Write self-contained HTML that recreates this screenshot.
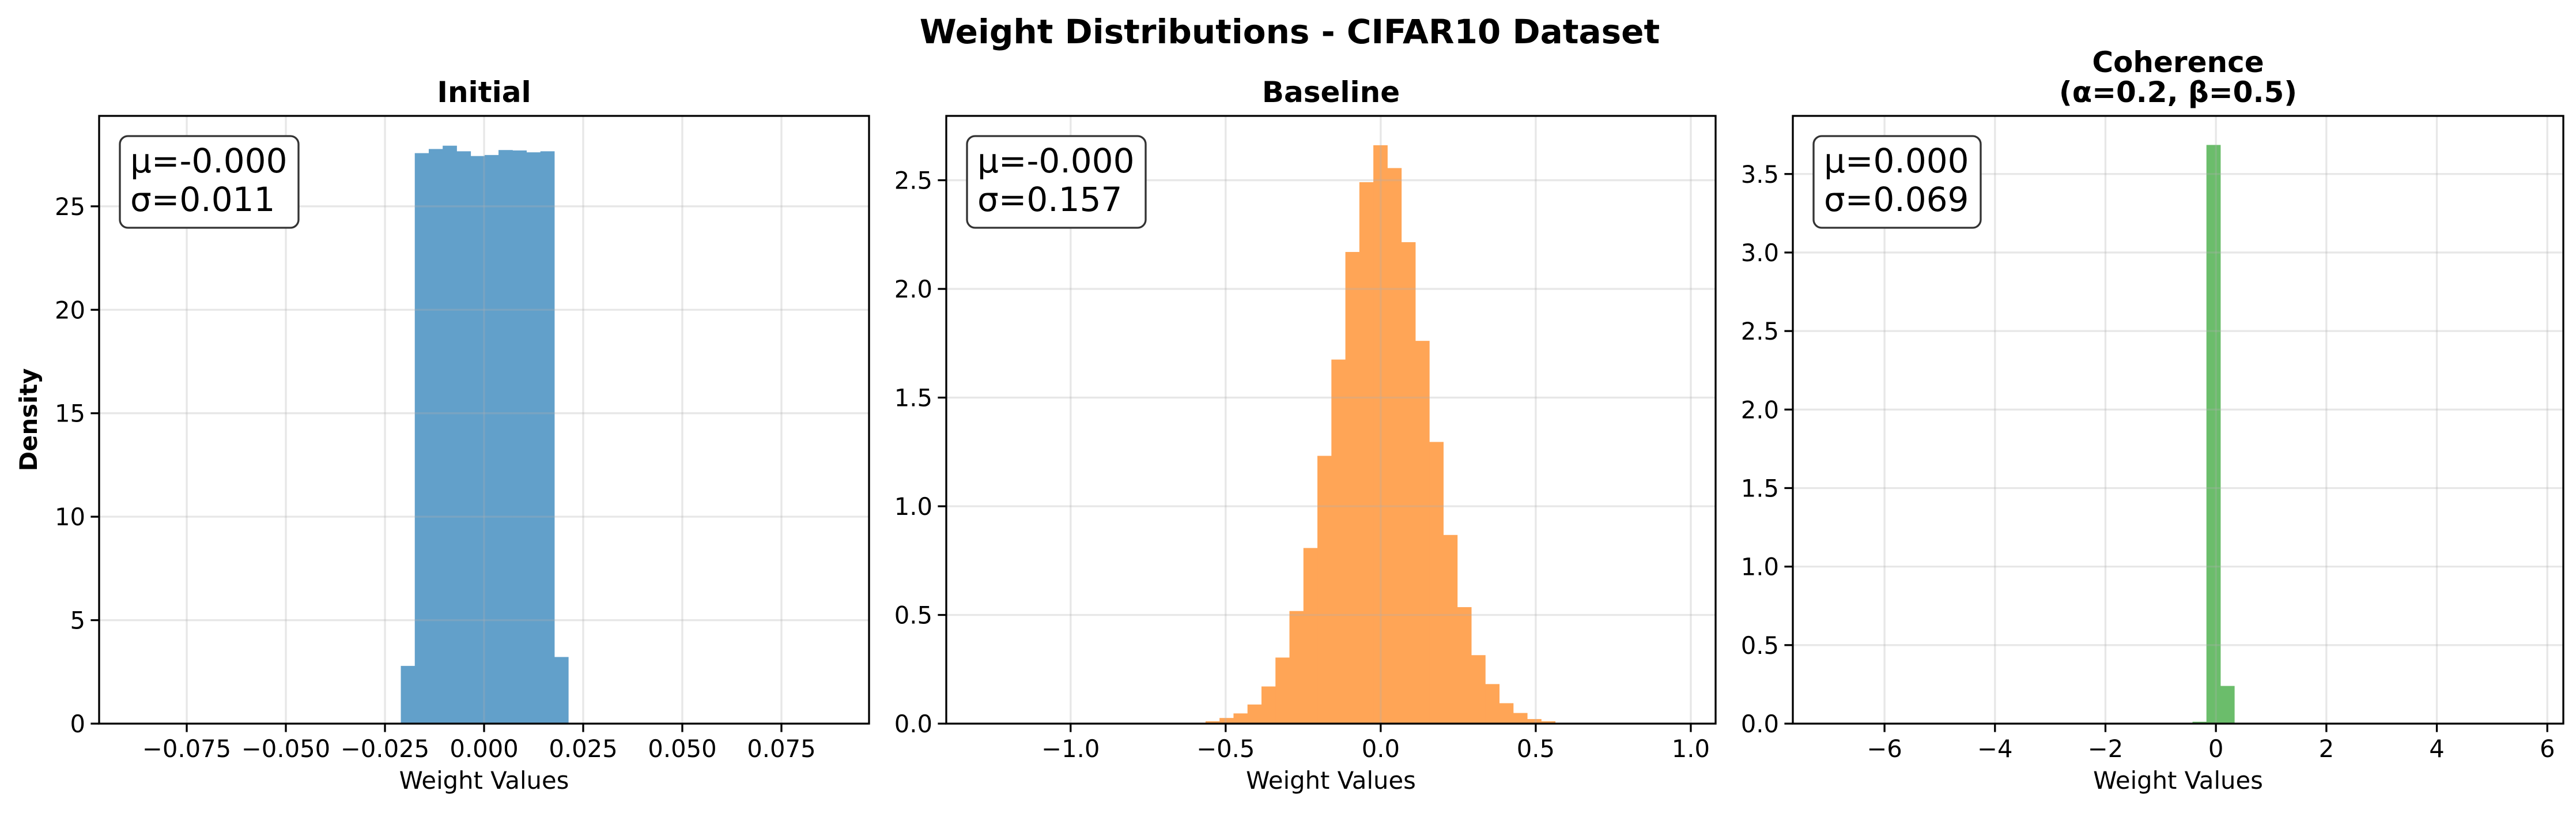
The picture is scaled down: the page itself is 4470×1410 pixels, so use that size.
<!DOCTYPE html>
<html><head><meta charset="utf-8"><style>
html,body{margin:0;padding:0;background:#fff;}
svg{display:block;font-family:"DejaVu Sans","Liberation Sans",sans-serif;}
</style></head><body>
<svg id="fig" width="4470" height="1410" viewBox="0 0 4470 1410" xmlns="http://www.w3.org/2000/svg">
<rect width="4470" height="1410" fill="#fff"/>
<text x="2238" y="75" text-anchor="middle" font-size="58" font-weight="bold">Weight Distributions - CIFAR10 Dataset</text>
</svg>
<script>
// Panel 1: Initial
const initEdges0 = -0.0210, initBinW = 0.00352;
const initHeights = [2.79, 27.57, 27.77, 27.93, 27.66, 27.43, 27.48, 27.72, 27.70, 27.61, 27.66, 3.22];
const initXTicks = [-0.075, -0.05, -0.025, 0, 0.025, 0.05, 0.075];
const initXTickLabels = ["\u22120.075","\u22120.050","\u22120.025","0.000","0.025","0.050","0.075"];
const initYTicks = [0,5,10,15,20,25];
const initYTickLabels = ["0","5","10","15","20","25"];
// Panel 2: Baseline
const baseEdge0 = -0.610, baseBinW = 0.0451;
const baseHeights = [0.004,0.011,0.026,0.047,0.088,0.171,0.304,0.518,0.808,1.232,1.675,2.170,2.491,2.661,2.556,2.215,1.761,1.296,0.868,0.536,0.315,0.182,0.094,0.049,0.021,0.011,0.004];
const baseXTicks = [-1,-0.5,0,0.5,1];
const baseXTickLabels = ["\u22121.0","\u22120.5","0.0","0.5","1.0"];
const baseYTicks = [0,0.5,1,1.5,2,2.5];
const baseYTickLabels = ["0.0","0.5","1.0","1.5","2.0","2.5"];
// Panel 3: Coherence
const cohEdge0 = -0.424, cohBinW = 0.2525;
const cohHeights = [0.012, 3.685, 0.240];
const cohXTicks = [-6,-4,-2,0,2,4,6];
const cohXTickLabels = ["\u22126","\u22124","\u22122","0","2","4","6"];
const cohYTicks = [0,0.5,1,1.5,2,2.5,3,3.5];
const cohYTickLabels = ["0.0","0.5","1.0","1.5","2.0","2.5","3.0","3.5"];

const NS="http://www.w3.org/2000/svg";
const svg=document.getElementById('fig');
function mk(tag,attrs,parent){const e=document.createElementNS(NS,tag);for(const k in attrs)e.setAttribute(k,attrs[k]);(parent||svg).appendChild(e);return e;}

function panel(o){
  const g=mk('g',{});
  
  
  const L=o.left,R=o.right,T=201,B=1255;
  const sx=v=>L+(v-o.xmin)/(o.xmax-o.xmin)*(R-L);
  const sy=v=>B-(v-o.ymin)/(o.ymax-o.ymin)*(B-T);
  // bars
  o.heights.forEach((h,i)=>{
    const x0=sx(o.edge0+i*o.binW), x1=sx(o.edge0+(i+1)*o.binW);
    const r=mk('rect',{x:x0,y:sy(h),width:x1-x0+0.5,height:B-sy(h),fill:o.color},g);
    
    
  });
  // grid (drawn over bars with alpha like matplotlib)
  o.xticks.forEach((t,i)=>{
    const x=sx(t);
    const gl=mk('line',{x1:x,x2:x,y1:T,y2:B,stroke:'#b0b0b0','stroke-opacity':0.3,'stroke-width':3.3},g);
    
    
    mk('line',{x1:x,x2:x,y1:B,y2:B+14.6,stroke:'#000','stroke-width':3.3},g);
    const tl=mk('text',{x:x,y:B+58,'text-anchor':'middle','font-size':41.7},g);
    tl.textContent=o.xlabels[i];
    
    
  });
  o.yticks.forEach((t,i)=>{
    const y=sy(t);
    const gl=mk('line',{x1:L,x2:R,y1:y,y2:y,stroke:'#b0b0b0','stroke-opacity':0.3,'stroke-width':3.3},g);
    
    
    mk('line',{x1:L-14.6,x2:L,y1:y,y2:y,stroke:'#000','stroke-width':3.3},g);
    const tl=mk('text',{x:L-24,y:y+15,'text-anchor':'end','font-size':41.7},g);
    tl.textContent=o.ylabels[i];
    
    
  });
  const fr=mk('rect',{x:L,y:T,width:R-L,height:B-T,fill:'none',stroke:'#000','stroke-width':3.3},g);
  
  
  // title
  o.title.forEach((line,i)=>{
    const tt=mk('text',{x:(L+R)/2,y:177-(o.title.length-1-i)*52,'text-anchor':'middle','font-size':50,'font-weight':'bold'},g);
    tt.textContent=line;
    
    
  });
  const xl=mk('text',{x:(L+R)/2,y:1368,'text-anchor':'middle','font-size':41.7},g);
  xl.textContent='Weight Values';
  
  
  // stats box
  const bx=L+36;
  const box=mk('rect',{x:bx,y:236,width:o.boxW,height:159,rx:14,fill:'#fff',stroke:'#333','stroke-width':3.3},g);
  
  
  const t1=mk('text',{x:bx+18,y:299,'font-size':58},g);
  t1.textContent=o.stats[0];
  
  
  const t2=mk('text',{x:bx+18,y:366,'font-size':58},g);
  t2.textContent=o.stats[1];
  
  
}

panel({name:'initial-panel',left:172,right:1508,xmin:-0.0971,xmax:0.0971,ymin:0,ymax:29.37,
  edge0:initEdges0,binW:initBinW,heights:initHeights,color:'#62a0ca',
  xticks:initXTicks,xlabels:initXTickLabels,yticks:initYTicks,ylabels:initYTickLabels,
  title:['Initial'],stats:['\u03bc=-0.000','\u03c3=0.011'],boxW:310});
panel({name:'baseline-panel',left:1642,right:2977,xmin:-1.401,xmax:1.080,ymin:0,ymax:2.796,
  edge0:baseEdge0,binW:baseBinW,heights:baseHeights,color:'#ffa556',
  xticks:baseXTicks,xlabels:baseXTickLabels,yticks:baseYTicks,ylabels:baseYTickLabels,
  title:['Baseline'],stats:['\u03bc=-0.000','\u03c3=0.157'],boxW:310});
panel({name:'coherence-panel',left:3111,right:4448,xmin:-7.66,xmax:6.29,ymin:0,ymax:3.87,
  edge0:cohEdge0,binW:cohBinW,heights:cohHeights,color:'#6bbd6b',
  xticks:cohXTicks,xlabels:cohXTickLabels,yticks:cohYTicks,ylabels:cohYTickLabels,
  title:['Coherence','(\u03b1=0.2, \u03b2=0.5)'],stats:['\u03bc=0.000','\u03c3=0.069'],boxW:290});

const yl=mk('text',{x:0,y:0,'text-anchor':'middle','font-size':41.7,'font-weight':'bold',transform:'translate(64,728) rotate(-90)'});
yl.textContent='Density';


</script>
</body></html>
